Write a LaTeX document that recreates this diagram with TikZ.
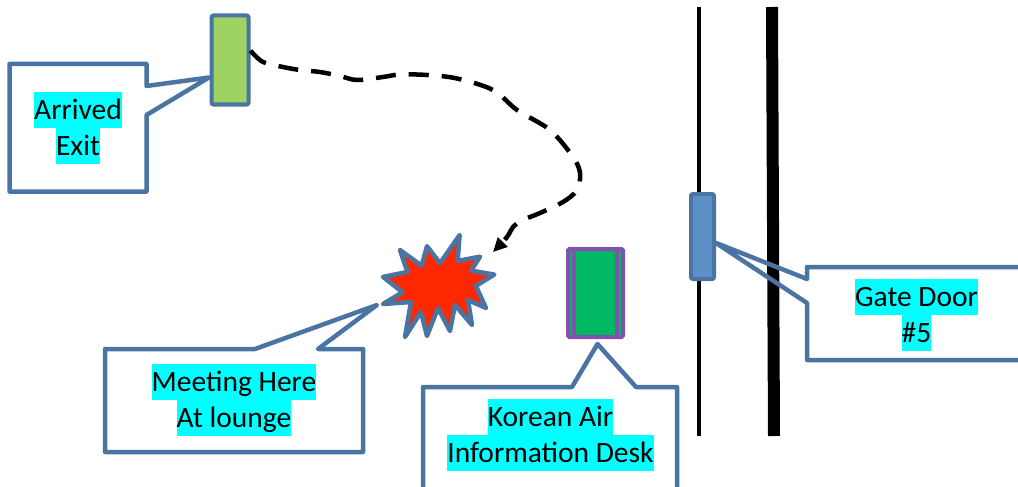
\documentclass[tikz,border=0pt]{standalone}
\usepackage{fontspec}
\setmainfont{Carlito}
\usetikzlibrary{arrows.meta,calc}
\definecolor{cblue}{HTML}{4A75A2}
\definecolor{gatefill}{HTML}{5E90C8}
\definecolor{exitgreen}{HTML}{9ED363}
\definecolor{deskgreen}{HTML}{00B862}
\definecolor{deskpurple}{HTML}{8350AE}
\definecolor{boomred}{HTML}{FF2800}
\definecolor{hlcyan}{HTML}{00FFFF}
\newcommand\hlx[1]{{\setlength\fboxsep{0pt}\colorbox{hlcyan}{\rule[-8.5pt]{0pt}{36pt}#1}}}
\tikzset{
  callout/.style={draw=cblue, line width=4.5pt, line join=round},
  label/.style={align=center, inner sep=0pt, font=\fontsize{29.5}{36}\selectfont},
  door/.style={draw=cblue, line width=4pt, rounded corners=2pt, inner sep=0pt},
}
\begin{document}
\begin{tikzpicture}[x=1pt,y=-1pt]
\useasboundingbox (0,0) rectangle (1018,487);
% walls
\draw[line width=3.5pt] (699,7) -- (699,436);
\draw[line width=12pt] (772,7) -- (774,436);
% gate door
\node[door, fill=gatefill, minimum width=23pt, minimum height=85pt] (gate) at (702.5,236.5) {};
% arrived exit
\node[door, fill=exitgreen, minimum width=37pt, minimum height=89pt] (exit) at (230,60) {};
% info desk
\node[draw=deskpurple, fill=deskgreen, line width=4pt, rounded corners=1.5pt, inner sep=0pt,
      minimum width=55pt, minimum height=88pt] (desk) at (595.5,293) {};
\draw[deskpurple, line width=4pt] ($(desk.north west)+(8,2)$) -- ($(desk.south west)+(8,-2)$);
\draw[deskpurple, line width=4pt] ($(desk.north east)+(-8,2)$) -- ($(desk.south east)+(-8,-2)$);
% explosion
\draw[cblue, fill=boomred, line width=4.5pt, line join=round]
  (440,263.2) -- (459.6,235) -- (457.7,260.9) -- (480,256.7) -- (471.1,270.6) -- (494.3,274.6)
  -- (475.9,285.9) -- (486,308) -- (468,300) -- (472,325) -- (455,305) -- (450,331)
  -- (438,308) -- (427,336) -- (421,312) -- (405,337) -- (411,302) -- (383,304)
  -- (402.6,292.2) -- (383,276.9) -- (407.4,272) -- (400,250) -- (421.6,265.7) -- (427,246.2) -- cycle;
\coordinate (boom) at (377,305);
% tips of callouts
\coordinate (exittip) at (209,77.5);
\coordinate (desktip) at (597.5,344);
\coordinate (gatetip) at (716,243);
% callouts
\draw[callout] (146.5,86) -- (exittip) -- (146.5,115) -- (146.5,191.5) -- (9.5,191.5) -- (9.5,64) -- (146.5,64) -- cycle;
\draw[callout] (255,349) -- (boom) -- (318,349) -- (363,349) -- (363,452) -- (105,452) -- (105,349) -- cycle;
\draw[callout] (572,387) -- (desktip) -- (636,387) -- (677,387) -- (677,500) -- (423,500) -- (423,387) -- cycle;
\draw[callout] (807,279) -- (gatetip) -- (807,303) -- (807,360) -- (1030,360) -- (1030,267) -- (807,267) -- cycle;
% labels
\node[label] (lexit) at (78,128) {\hlx{Arrived}\\\hlx{Exit}};
\node[label] (lmeet) at (234,400) {\hlx{Meeting Here}\\\hlx{At lounge}};
\node[label] (ldesk) at (550.5,435) {\hlx{Korean Air}\\\hlx{Information Desk}};
\node[label] (lgate) at (916.5,315) {\hlx{Gate Door}\\\hlx{\#5}};
% path
\coordinate (exitpt) at ($(exit.north east)!0.4!(exit.south east)$);
\coordinate (meetpt) at (493,252);
\draw[line width=4.5pt, dash pattern=on 20pt off 13pt, -{Triangle[length=14pt,width=13pt]}]
  plot[smooth, tension=0.55] coordinates {(exitpt) (263,62) (283,67) (300,70) (320,72) (340,76) (357,80)
  (383,77) (400,74.5) (427,75) (457,78.5) (493,90) (517,110) (550,130) (573,157) (580,173)
  (577,190) (563,202) (540,213) (523,220) (513,227) (507,237) (meetpt)};
\end{tikzpicture}
\end{document}
